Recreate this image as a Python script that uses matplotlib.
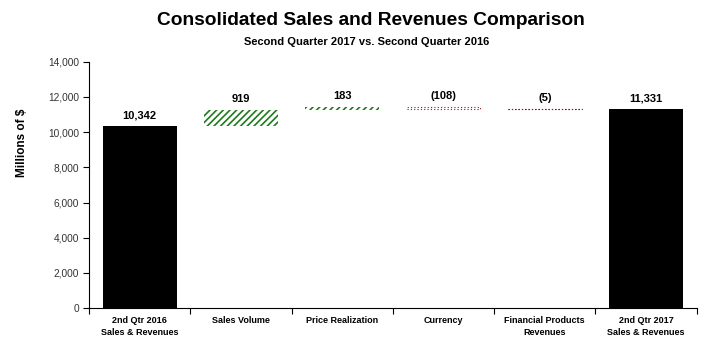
import matplotlib
matplotlib.use("Agg")
import matplotlib.pyplot as plt
import numpy as np

categories = ["2nd Qtr 2016\nSales & Revenues", "Sales Volume", "Price Realization",
              "Currency", "Financial Products\nRevenues", "2nd Qtr 2017\nSales & Revenues"]
start_total = 10342
changes = [919, 183, -108, -5]
end_total = 11331
labels = ["10,342", "919", "183", "(108)", "(5)", "11,331"]

plt.rcParams['font.family'] = ['Liberation Sans', 'DejaVu Sans']
plt.rcParams['hatch.linewidth'] = 1.2

fig = plt.figure(figsize=(7.11, 3.47), dpi=100)
ax = fig.add_axes([0.125, 0.112, 0.855, 0.710])

x = np.arange(len(categories))
w = 0.73

# totals
ax.bar(x[0], start_total, width=w, color='black')
ax.bar(x[-1], end_total, width=w, color='black')

level = start_total
tops = [start_total]
for i, c in enumerate(changes):
    xi = x[i + 1]
    if c >= 0:
        ax.bar(xi, c, bottom=level, width=w, facecolor='white', edgecolor='#1e7a1e',
               hatch='/////', linewidth=0)
        tops.append(level + c)
    else:
        ax.bar(xi, -c, bottom=level + c, width=w, facecolor='none', edgecolor='#a01010',
               linestyle=(0, (1, 2)), linewidth=0.8)
        tops.append(level)
    level += c
tops.append(end_total)

for xi, t, lab in zip(x, tops, labels):
    ax.annotate(lab, (xi, t), xytext=(0, 4), textcoords='offset points',
                ha='center', va='bottom', fontsize=8, fontweight='bold')

ax.set_xlim(-0.5, len(categories) - 0.5)
ax.set_ylim(0, 14000)
ax.set_yticks(np.arange(0, 14001, 2000))
ax.set_yticklabels([f"{v:,}" for v in range(0, 14001, 2000)], fontsize=7.3, color='#333333')
ax.set_xticks(np.arange(-0.5, len(categories), 1.0))
ax.set_xticklabels([])
ax.set_xticks(x, minor=True)
ax.set_xticklabels(categories, minor=True, fontsize=6.5, fontweight='bold', linespacing=1.4)
ax.tick_params(axis='x', which='minor', length=0, pad=6)
ax.tick_params(axis='x', which='major', length=4, direction='out')
ax.tick_params(axis='y', length=4, direction='out', pad=3)
ax.spines['top'].set_visible(False)
ax.spines['right'].set_visible(False)

ax.set_ylabel("Millions of $", fontsize=8.5, fontweight='bold')
ax.yaxis.set_label_coords(-0.1, 0.672)

fig.text(0.522, 0.942, "Consolidated Sales and Revenues Comparison", ha='center', va='center',
         fontsize=13.8, fontweight='bold')
fig.text(0.515, 0.879, "Second Quarter 2017 vs. Second Quarter 2016", ha='center', va='center',
         fontsize=8, fontweight='bold')

fig.savefig("out.png", dpi=100)
